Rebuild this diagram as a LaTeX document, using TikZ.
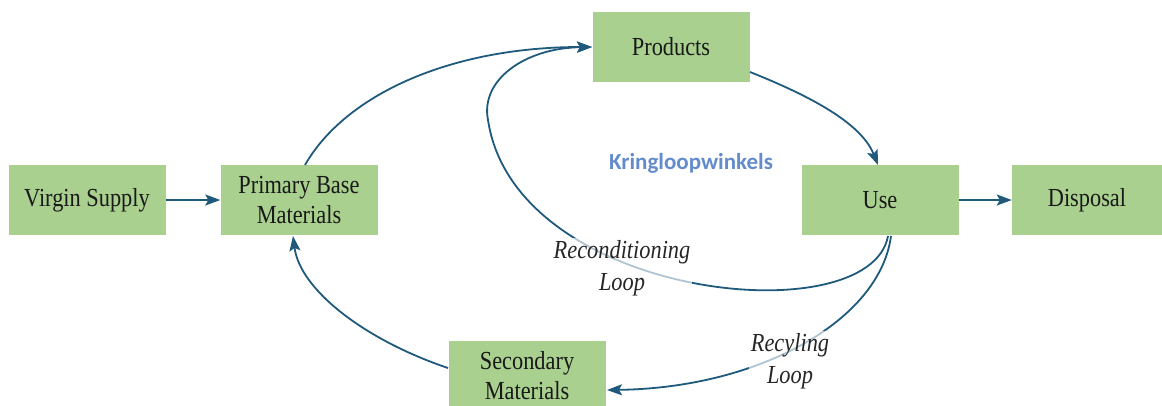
\documentclass[tikz,border=0pt]{standalone}
\usepackage{fontspec}
\setmainfont{Liberation Serif}[FakeStretch=0.86]
\newfontfamily\labsans{Carlito}
\usetikzlibrary{arrows.meta}
\definecolor{boxgreen}{RGB}{169,208,142}
\definecolor{arrowblue}{RGB}{31,90,125}
\definecolor{kringblue}{RGB}{100,140,205}
\tikzset{
  procbox/.style={fill=boxgreen, draw=none, minimum width=157pt, minimum height=70pt,
    inner sep=0pt, align=center, font=\fontsize{26}{30}\selectfont, text=black!90},
  flow/.style={draw=arrowblue, line width=1.8pt, -{Stealth[length=15pt,width=11pt,inset=3pt]}},
  looplab/.style={align=center, font=\fontsize{26}{32}\selectfont\itshape, text=black!85,
    fill=white, fill opacity=0.65, text opacity=1, inner sep=2pt}
}
\begin{document}
\begin{tikzpicture}[x=1pt,y=-1pt]
\useasboundingbox (0,0) rectangle (1162,405);
\node[procbox] (virgin) at (87,200) {Virgin Supply};
\node[procbox] (primary) at (299,200) {Primary Base\\Materials};
\node[procbox] (products) at (671,47) {Products};
\node[procbox] (use) at (880,200) {Use};
\node[procbox, minimum width=150pt] (disposal) at (1087,200) {Disposal};
\node[procbox] (secondary) at (527,376) {Secondary\\Materials};

\node[font=\labsans\bfseries\fontsize{23}{26}\selectfont, text=kringblue] (kring) at (691,163) {Kringloopwinkels};

\coordinate (useb1) at (888,236);
\coordinate (useb2) at (891,236);
\coordinate (primt) at (305,165);
\coordinate (prodl) at (592,47);
\coordinate (primb) at (293,236);
\coordinate (secl) at (448,368);
\coordinate (secr) at (607,390);
\coordinate (prodr) at (750,72);
\coordinate (uset) at (878,165);
\coordinate (recmid) at (488,120);

\draw[flow] (virgin.east) -- (primary.west);
\draw[flow] (use.east) -- (disposal.west);
\draw[flow] (primt) .. controls (345,95) and (450,47) .. (prodl);
\draw[flow] (prodr) .. controls (800,92) and (860,120) .. (uset);
\draw[flow] (useb1) .. controls (870,335) and (515,300) .. (recmid)
  .. controls (480,80) and (525,48) .. (prodl);
\draw[flow] (useb2) .. controls (880,320) and (760,388) .. (secr);
\draw[flow] (secl) .. controls (365,340) and (300,290) .. (primb);

\node[looplab] (reclab) at (622,268) {Reconditioning\\Loop};
\node[looplab] (recylab) at (790,361) {Recyling\\Loop};
\end{tikzpicture}
\end{document}
